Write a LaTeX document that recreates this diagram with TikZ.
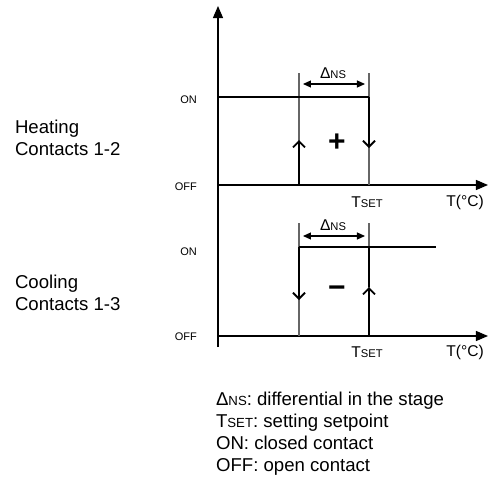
\documentclass[tikz,border=0pt]{standalone}
\usepackage{fontspec}
\setmainfont{Liberation Sans}
\usetikzlibrary{arrows.meta,positioning}

\newcommand{\tsetsym}[2]{{\fontsize{#1}{#1}\selectfont T}{\fontsize{#2}{#2}\selectfont SET}}
\newcommand{\dnssym}[2]{{\fontsize{#1}{#1}\selectfont Δ}{\fontsize{#2}{#2}\selectfont NS}}

\begin{document}
\begin{tikzpicture}[x=0.5pt,y=-0.5pt,
					axis/.style={line width=0.6pt,-{Triangle[length=6pt,width=5pt]}},
					level/.style={line width=0.6pt},
					guide/.style={line width=0.6pt,black!60},
					switch/.style={line width=0.9pt,-{Straight Barb[length=3pt,width=6pt]}},
					span/.style={line width=0.6pt,{Triangle[length=4pt,width=3.5pt]}-{Triangle[length=4pt,width=3.5pt]},shorten <=2pt,shorten >=2pt},
					state/.style={font=\fontsize{5.5}{6}\selectfont,anchor=east},
					title/.style={font=\fontsize{9.3}{11}\selectfont,align=left,anchor=west},
					sign/.style={font=\fontsize{15}{15}\selectfont\bfseries}]
	\useasboundingbox (0,0) rectangle (489,477);

	% common vertical axis
	\coordinate (ybot) at (218,347);
	\coordinate (ytop) at (218,6);
	\draw[axis] (ybot) -- (ytop);

	% heating, contacts 1-2
	\coordinate (h0) at (218,185);
	\coordinate (h1) at (488,185);
	\coordinate (hon) at (218,97);
	\coordinate (hset) at (369,97);
	\coordinate (ha) at (299,73);
	\coordinate (hb) at (299,185);
	\coordinate (hc) at (369,73);
	\coordinate (hd) at (369,185);
	\coordinate (hup) at (299,140);
	\coordinate (hdown) at (369,148);
	\draw[axis] (h0) -- (h1);
	\draw[guide] (ha) -- (hb);
	\draw[guide] (hc) -- (hd);
	\draw[level] (hon) -- (hset);
	\draw[switch] (hb) -- (hup);
	\draw[switch] (hset) -- (hdown);
	\draw[span] (299,84) -- (369,84);

	\node[state] (hON) at (204,100) {ON};
	\node[state] (hOFF) at (204,187) {OFF};
	\node[title] (heat) at (8,138) {Heating\\Contacts 1-2};
	\node (hdns) at (333,73) {\dnssym{7.8}{5.6}};
	\node (htset) at (367,202) {\tsetsym{7.8}{5.6}};
	\node[font=\fontsize{7.8}{9}\selectfont] (htemp) at (465,202) {T(°C)};
	\node[sign] (plus) at (337,143) {+};

	% cooling, contacts 1-3
	\coordinate (c0) at (218,336);
	\coordinate (c1) at (488,336);
	\coordinate (con) at (299,247);
	\coordinate (cend) at (436,247);
	\coordinate (ca) at (299,223);
	\coordinate (cb) at (299,336);
	\coordinate (cc) at (369,223);
	\coordinate (cd) at (369,336);
	\coordinate (cset) at (369,247);
	\coordinate (cdown) at (299,300);
	\coordinate (cup) at (369,287);
	\draw[axis] (c0) -- (c1);
	\draw[guide] (ca) -- (cb);
	\draw[guide] (cc) -- (cd);
	\draw[level] (con) -- (cend);
	\draw[switch] (con) -- (cdown);
	\draw[line width=0.9pt] (cset) -- (cup);
	\draw[switch] (cd) -- (cup);
	\draw[span] (299,236) -- (369,236);

	\node[state] (cON) at (204,252) {ON};
	\node[state] (cOFF) at (204,337) {OFF};
	\node[title] (cool) at (8,293) {Cooling\\Contacts 1-3};
	\node (cdns) at (333,225) {\dnssym{7.8}{5.6}};
	\node (ctset) at (367,352) {\tsetsym{7.8}{5.6}};
	\node[font=\fontsize{7.8}{9}\selectfont] (ctemp) at (465,352) {T(°C)};
	\node[sign] (minus) at (337,292) {−};

	% legend
	\node[title,anchor=north west] (legend) at (209,385)
		{\dnssym{9.3}{6.6}: differential in the stage\\
		 \tsetsym{9.3}{6.6}: setting setpoint\\
		 ON: closed contact\\
		 OFF: open contact};
\end{tikzpicture}
\end{document}
